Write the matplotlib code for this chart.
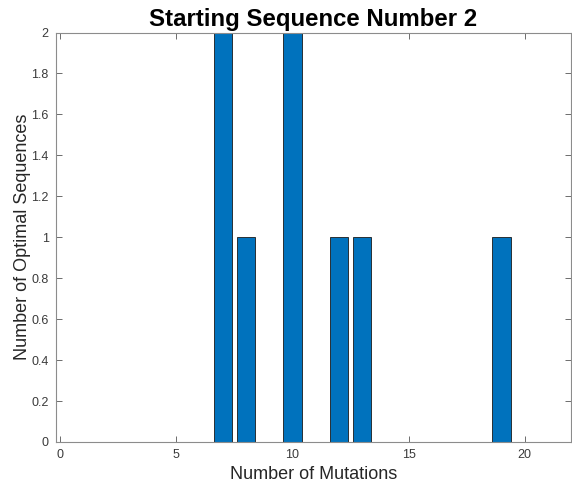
import matplotlib
matplotlib.use("Agg")
import matplotlib.pyplot as plt

# Number of optimal sequences found for each mutation count
mutations = [7, 8, 10, 12, 13, 19]
counts = [2, 1, 2, 1, 1, 1]

xticks = [0, 5, 10, 15, 20]
yticks = [0, 0.2, 0.4, 0.6, 0.8, 1, 1.2, 1.4, 1.6, 1.8, 2]
ytick_labels = ["0", "0.2", "0.4", "0.6", "0.8", "1", "1.2", "1.4", "1.6", "1.8", "2"]

plt.rcParams["font.family"] = ["Liberation Sans", "DejaVu Sans"]

fig = plt.figure(figsize=(5.72, 4.91), dpi=100)
ax = fig.add_axes([0.0974, 0.0998, 0.901, 0.834])

ax.bar(mutations, counts, width=0.8, color="#0072BD",
       edgecolor="#1a1a1a", linewidth=0.6, zorder=2)

ax.set_xlim(-0.2, 22)
ax.set_ylim(0, 2)
ax.set_xticks(xticks)
ax.set_yticks(yticks)
ax.set_yticklabels(ytick_labels)

axis_gray = "#262626"
for side in ax.spines.values():
    side.set_color("#8c8c8c")
    side.set_linewidth(0.8)
ax.tick_params(direction="in", top=True, right=True, length=4, width=0.6,
               color="#555555", labelsize=9, labelcolor="#3a3a3a", pad=5)

ax.set_title("Starting Sequence Number 2", fontsize=17.3, fontweight="bold",
             color="black", pad=5)
ax.set_xlabel("Number of Mutations", fontsize=13, color=axis_gray, labelpad=4)
ax.set_ylabel("Number of Optimal Sequences", fontsize=13, color=axis_gray, labelpad=0)

fig.savefig("out.png", dpi=100)
